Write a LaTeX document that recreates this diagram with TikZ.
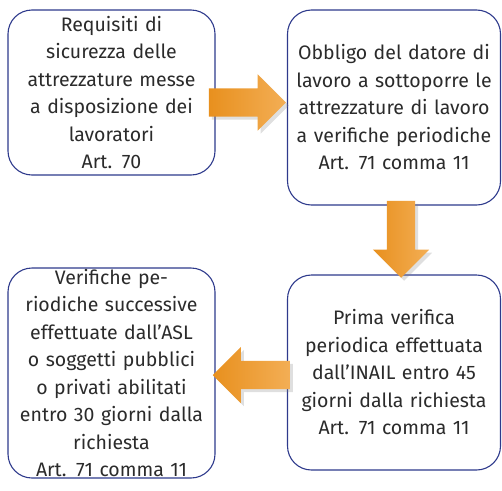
\documentclass[tikz,border=0pt]{standalone}
\usepackage{fontspec}
\setmainfont{Fira Sans}
\usetikzlibrary{shapes.arrows,shadows,calc}

\definecolor{boxblue}{HTML}{2E3A8C}
\definecolor{textgray}{HTML}{2B2B2B}
\definecolor{arrowdark}{HTML}{E8901E}
\definecolor{arrowlight}{HTML}{F3AE55}

\tikzset{
  stepcard/.style={draw=boxblue,line width=1.1pt,rounded corners=24pt,fill=white,
    align=center,text=textgray,inner sep=0pt,
    font=\fontsize{19.5}{27.5}\selectfont},
  blockarrow/.style={single arrow,draw=none,left color=arrowdark,right color=arrowlight,
    inner xsep=0pt,inner ysep=14pt,minimum height=77pt,single arrow head extend=14pt,
    anchor=tail,drop shadow={opacity=0.25,shadow xshift=3pt,shadow yshift=-3pt}}
}

\begin{document}
\begin{tikzpicture}[x=1pt,y=-1pt]
    \pgfmathsetmacro{\leftwidth}{207}
    \pgfmathsetmacro{\rightwidth}{213}
    \useasboundingbox (0,0) rectangle (502,490);
    \node[stepcard,minimum width=\leftwidth pt,minimum height=165pt,text width=\leftwidth pt] (req) at (111.5,92.5)
    {Requisiti di\\sicurezza delle\\attrezzature messe\\a disposizione dei\\lavoratori\\Art. 70};
    \node[stepcard,minimum width=\rightwidth pt,minimum height=195pt,text width=\rightwidth pt] (obl) at (394,107.5)
    {Obbligo del datore di\\lavoro a sottoporre le\\attrezzature di lavoro\\a verifiche periodiche\\Art. 71 comma 11};
    \node[stepcard,minimum width=\rightwidth pt,minimum height=195pt,text width=\rightwidth pt] (inail) at (394,372.5)
    {Prima verifica\\periodica effettuata\\dall’INAIL entro 45\\giorni dalla richiesta\\Art. 71 comma 11};
    \node[stepcard,minimum width=\leftwidth pt,minimum height=210pt,text width=\leftwidth pt] (asl) at (111.5,373)
    {Verifiche pe-\\riodiche successive\\effettuate dall’ASL\\o soggetti pubblici\\o privati abilitati\\entro 30 giorni dalla\\richiesta\\Art. 71 comma 11};
    % block arrows between the cards
    \node[blockarrow] (a1) at ($(req.east)+(-7,10)$) {};
    \node[blockarrow,rotate=-90] (a2) at ($(obl.south)+(7,-5)$) {};
    \node[blockarrow,rotate=180] (a3) at ($(inail.west)+(3,2.5)$) {};
\end{tikzpicture}
\end{document}
